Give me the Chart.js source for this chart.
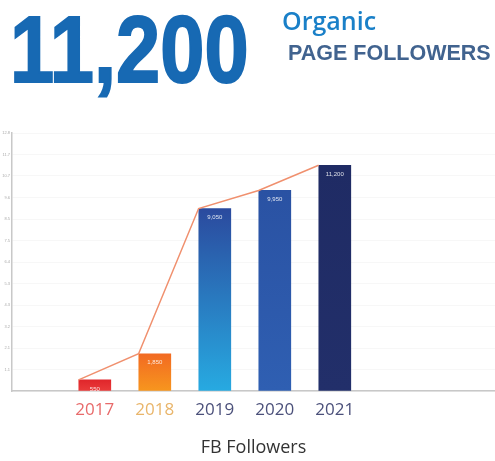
<!DOCTYPE html>
<html>
<head>
<meta charset="utf-8">
<script src="https://cdn.jsdelivr.net/npm/chart.js@4.4.1/dist/chart.umd.min.js"></script>
<style>
  html, body { margin: 0; padding: 0; background: #fff; }
  #wrap { position: relative; width: 495px; height: 461px; overflow: hidden; }
  #big { position: absolute; left: 10px; top: 3px; font-family: "Liberation Sans", Arial, sans-serif; font-weight: bold;
         font-size: 94px; line-height: 94px; color: #1769b3; transform: scaleX(0.845); transform-origin: left top;
         -webkit-text-stroke: 2px #1769b3; white-space: nowrap; }
  #organic { position: absolute; left: 282px; top: 3px; font-family: "Open Sans", sans-serif; font-weight: 600;
         font-size: 25px; color: #1a80c8; white-space: nowrap; }
  #pf { position: absolute; left: 288px; top: 41px; font-family: "Liberation Sans", Arial, sans-serif; font-weight: bold;
         font-size: 21.5px; color: #41638f; white-space: nowrap; }
  canvas { position: absolute; left: 0; top: 0; }
</style>
</head>
<body>
<div id="wrap">
  <canvas id="c" width="495" height="461"></canvas>
  <div id="big">11,200</div>
  <div id="organic">Organic</div>
  <div id="pf">PAGE FOLLOWERS</div>
</div>
<script>
// ---- data ----
const years = ["2017", "2018", "2019", "2020", "2021"];
const followers = [550, 1850, 9050, 9950, 11200];
const valueLabels = ["550", "1,850", "9,050", "9,950", "11,200"];
const yearColors = ["#e86a6a", "#e9b56a", "#4b507a", "#4b507a", "#4b507a"];
const barTop = ["#e0262b", "#f26a22", "#2b4a9e", "#2a52a3", "#1f2b64"];
const barBottom = ["#ea3b3a", "#f7961e", "#27aae1", "#2f5fb2", "#222f6a"];

const BAR_W = 32;

function barGradient(ctx) {
  const chart = ctx.chart;
  const i = ctx.dataIndex;
  if (!chart.chartArea || i === undefined) return barTop[i || 0];
  const ys = chart.scales.y;
  const y0 = ys.getPixelForValue(followers[i]);
  const y1 = ys.getPixelForValue(0);
  const g = chart.ctx.createLinearGradient(0, y0, 0, y1);
  g.addColorStop(0, barTop[i]);
  g.addColorStop(1, barBottom[i]);
  return g;
}

const valueLabelPlugin = {
  id: 'valueLabels',
  afterDatasetsDraw(chart) {
    const meta = chart.getDatasetMeta(1);
    const c = chart.ctx;
    c.save();
    c.fillStyle = 'rgba(255,255,255,0.85)';
    c.font = '6px "Liberation Sans", Arial, sans-serif';
    c.textAlign = 'center';
    c.textBaseline = 'top';
    meta.data.forEach((el, i) => {
      c.fillText(valueLabels[i], el.x, el.y + 6);
    });
    c.restore();
  }
};

new Chart(document.getElementById('c'), {
  data: {
    datasets: [
      {
        type: 'line',
        data: followers.map((v, i) => ({ x: i + 1 - 0.27, y: v })),
        borderColor: '#f0906e',
        borderWidth: 1.5,
        pointRadius: 0,
        tension: 0,
        order: 0
      },
      {
        type: 'bar',
        data: followers.map((v, i) => ({ x: i + 1, y: v })),
        backgroundColor: barGradient,
        barThickness: BAR_W,
        borderWidth: 0,
        order: 1
      }
    ]
  },
  options: {
    responsive: false,
    animation: false,
    events: [],
    layout: { padding: { top: 133, right: 0, left: 0, bottom: 2 } },
    plugins: { legend: { display: false }, tooltip: { enabled: false } },
    scales: {
      x: {
        type: 'linear',
        offset: false,
        min: -0.38,
        max: 7.67,
        afterBuildTicks: (axis) => { axis.ticks = years.map((_, i) => ({ value: i + 1 })); },
        grid: { display: false, drawTicks: false, offset: false },
        border: { display: true, color: '#c8c8c8', width: 1.5 },
        ticks: {
          padding: 9,
          autoSkip: false,
          maxRotation: 0,
          font: { family: '"Open Sans", sans-serif', size: 17 },
          color: (ctx) => yearColors[ctx.index] || '#4b507a',
          callback: (v) => years[v - 1] || ''
        },
        title: {
          display: true,
          text: 'FB Followers',
          color: '#333333',
          font: { family: '"Open Sans", sans-serif', size: 18 },
          padding: { top: 8, bottom: 0 }
        }
      },
      y: {
        min: 0,
        max: 12800,
        afterFit: (axis) => { axis.width = 12; },
        grid: { color: 'rgba(0,0,0,0.03)', drawTicks: false },
        border: { display: true, color: '#c8c8c8', width: 1.5 },
        ticks: {
          stepSize: 1100,
          padding: 2,
          font: { size: 4 },
          color: '#aaaaaa',
          callback: (v) => v === 0 ? '' : (v / 1000).toFixed(1)
        }
      }
    }
  },
  plugins: [valueLabelPlugin]
});
</script>
</body>
</html>
